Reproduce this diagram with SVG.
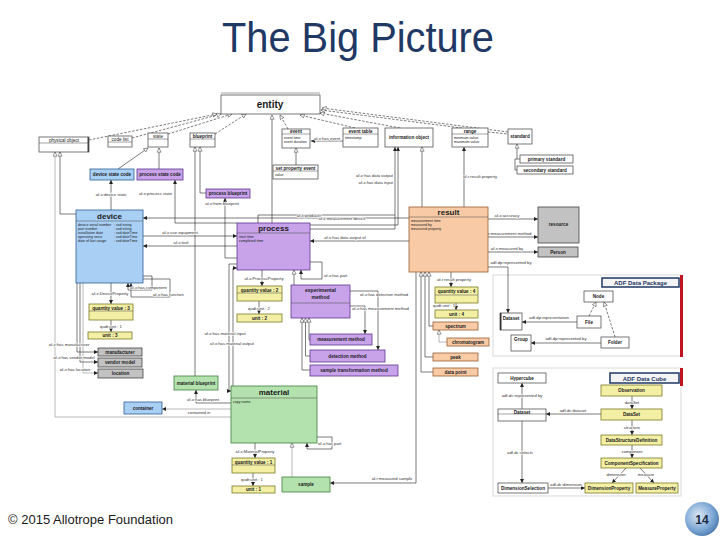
<svg xmlns="http://www.w3.org/2000/svg" width="720" height="540" viewBox="0 0 720 540">
<style>
text{font-family:"Liberation Sans",Arial,sans-serif;fill:#1a1a1a}
.nm{font-size:4.6px;font-weight:bold;text-anchor:middle}
.at{font-size:3.6px}
.big{font-size:8px;font-weight:bold;text-anchor:middle}
.lb{font-size:4.2px;fill:#333;paint-order:stroke;stroke:#fff;stroke-width:1.2px;stroke-linejoin:round}
.m{text-anchor:middle}
.e{text-anchor:end}
.bw{fill:#fff;stroke:#555;stroke-width:0.8}
.bb{fill:#A9CFF5;stroke:#2F5F95;stroke-width:0.8}
.bp{fill:#C8A3EA;stroke:#5E3591;stroke-width:0.8}
.bo{fill:#F8CBA6;stroke:#9A5E33;stroke-width:0.8}
.bg{fill:#B4E2AE;stroke:#3F7F3F;stroke-width:0.8}
.by{fill:#F3F0A6;stroke:#7A7A25;stroke-width:0.8}
.bgy{fill:#C2C2C2;stroke:#444;stroke-width:0.8}
.hl{stroke:#444;stroke-width:0.5}
.c{fill:none;stroke:#222;stroke-width:0.6}
.cg{stroke:#8a8a8a}
.d{stroke-dasharray:2.5,1.5}
.fa{marker-end:url(#af)}
.ga{marker-end:url(#ag)}
</style>
<defs>
<marker id="af" viewBox="0 0 10 10" refX="10" refY="5" markerUnits="userSpaceOnUse" markerWidth="4" markerHeight="4" orient="auto"><path d="M0,0 L10,5 L0,10 z" fill="#222"/></marker>
<marker id="ag" viewBox="0 0 12 12" refX="11" refY="6" markerUnits="userSpaceOnUse" markerWidth="5" markerHeight="5" orient="auto"><path d="M1,1 L11,6 L1,11 z" fill="#fff" stroke="#333" stroke-width="1.2"/></marker>
<radialGradient id="lg" cx="0.4" cy="0.4" r="0.7"><stop offset="0" stop-color="#DDE9F5"/><stop offset="0.6" stop-color="#7FA9D6"/><stop offset="1" stop-color="#3F6FA5"/></radialGradient>
</defs>
<rect width="720" height="540" fill="#fff"/>
<text x="358" y="52" font-size="42" style="fill:#1F3864" text-anchor="middle" textLength="272" lengthAdjust="spacingAndGlyphs">The Big Picture</text>

<!-- panels -->
<g id="adf-data-package">
<rect x="493" y="275" width="188" height="81" fill="#fff" stroke="#d0d0d0" stroke-width="0.8"/>
<rect x="680" y="275" width="3" height="82" fill="#C0141E"/>
<rect x="602" y="278" width="77" height="9" fill="#F4F4F4" stroke="#1F3864" stroke-width="1.5"/>
<text class="m" x="640.5" y="285" style="font-size:6px;font-weight:bold;fill:#1F3864">ADF Data Package</text>
</g>
<g id="adf-data-cube">
<rect x="493" y="368" width="188" height="128" fill="#fff" stroke="#d0d0d0" stroke-width="0.8"/>
<rect x="680" y="368" width="3" height="18" fill="#C0141E"/>
<rect x="610" y="373" width="69" height="10" fill="#F4F4F4" stroke="#1F3864" stroke-width="1.5"/>
<text class="m" x="644.5" y="380.5" style="font-size:6px;font-weight:bold;fill:#1F3864">ADF Data Cube</text>
</g>

<g id="connectors">
<path class="c d ga" d="M89,140 L217,114"/>
<path class="c d ga" d="M132,138 L221,114"/>
<path class="c d ga" d="M168,134 L232,114"/>
<path class="c d ga" d="M215,134 L246,114"/>
<path class="c d ga" d="M288,129 L280,115"/>
<path class="c d ga" d="M355,128 L300,115"/>
<path class="c d ga" d="M400,128 L320,113"/>
<path class="c d ga" d="M462,128 L321,110"/>
<path class="c d ga" d="M508,132 L322,108"/>
<path class="c ga" d="M272,223 V115"/>
<path class="c ga" d="M118,169 L148,148"/>
<path class="c ga" d="M159,169 V148"/>
<path class="c ga" d="M195,376 V147"/>
<path class="c ga" d="M206,193 H200 V147"/>
<path class="c ga" d="M296,165 V148"/>
<path class="c fa" d="M343,141 H311"/>
<path class="c d" d="M488,132 L508,134"/>
<path class="c ga" d="M520,159 H517 V144"/>
<path class="c" d="M517,170 H515 V159 H517"/>
<path class="c ga" d="M422,207 V147"/>
<path class="c fa" d="M310,229 H395 V147"/>
<path class="c fa" d="M310,225 H398 V147"/>
<path class="c fa" d="M464,207 V147"/>
<path class="c" d="M258,223 V215 H395"/>
<path class="c fa" d="M409,218 H143"/>
<path class="c fa" d="M409,241 H310"/>
<path class="c fa" d="M111,210 V180"/>
<path class="c fa" d="M237,223 H175 V180"/>
<path class="c fa" d="M237,258 H225 V198"/>
<path class="c fa" d="M143,236 H237"/>
<path class="c fa" d="M237,246 H143"/>
<path class="c ga" d="M76,214 H60 V152"/>
<path class="c cg ga" d="M231,417 H55 V152"/>
<path class="c fa" d="M111,283 V304"/>
<path class="c fa" d="M111,320 V332"/>
<path class="c fa" d="M143,276 H152 V290 H128 V283"/>
<path class="c fa" d="M143,279 H170 V297 H131 V283"/>
<path class="c fa" d="M77,283 V352 H98"/>
<path class="c fa" d="M80,283 V362 H98"/>
<path class="c cg fa" d="M83,283 V373 H98"/>
<path class="c fa" d="M262,270 V286"/>
<path class="c fa" d="M259,301 V314"/>
<path class="c fa" d="M310,262 H322 V279 H301 V270"/>
<path class="c ga" d="M294,285 V270"/>
<path class="c fa" d="M237,264 H229 V391 H231"/>
<path class="c fa" d="M233,386 V268 H237"/>
<path class="c fa" d="M350,291 H378 V350"/>
<path class="c fa" d="M350,306 H365 V334"/>
<path class="c ga" d="M310,370 H302 V318"/>
<path class="c ga" d="M310,356 H305.5 V318"/>
<path class="c ga" d="M310,340 H309 V318"/>
<path class="c fa" d="M488,219 H538"/>
<path class="c fa" d="M488,237 H538"/>
<path class="c fa" d="M488,252 H538"/>
<path class="c fa" d="M488,267 H508 V313"/>
<path class="c fa" d="M451,272 V287"/>
<path class="c fa" d="M456,303 V310"/>
<path class="c ga" d="M433,326 H429 V272"/>
<path class="c ga" d="M433,357 H425 V272"/>
<path class="c ga" d="M433,372 H421 V272"/>
<path class="c cg ga" d="M447,342 H439 V330"/>
<path class="c fa" d="M416,272 V483 H330"/>
<path class="c fa" d="M231,403 H196 V390"/>
<path class="c cg fa" d="M231,409 H162"/>
<path class="c fa" d="M317,437 H332 V449 H307 V443"/>
<path class="c cg ga" d="M292,477 V443"/>
<path class="c fa" d="M255,443 V458"/>
<path class="c fa" d="M253,473 V486"/>
<path class="c d ga" d="M589,316 L596,302"/>
<path class="c d ga" d="M615,337 L604,302"/>
<path class="c fa" d="M577,322 H522"/>
<path class="c fa" d="M601,343 H531"/>
<path class="c fa" d="M522,409 V383"/>
<path class="c fa" d="M601,414 H546"/>
<path class="c fa" d="M632,396 V409"/>
<path class="c fa" d="M632,420 V435"/>
<path class="c fa" d="M632,445 V458"/>
<path class="c fa" d="M626,468 L612,483"/>
<path class="c fa" d="M640,468 L654,483"/>
<path class="c fa" d="M522,421 V483"/>
<path class="c fa" d="M548,488 H585"/>

<text class="lb m" x="327" y="140">af-x:has event</text>
<text class="lb e" x="393" y="177">af-x:has data output</text>
<text class="lb e" x="393" y="184">af-x:has data input</text>
<text class="lb m" x="480" y="178">af-r:result property</text>
<text class="lb m" x="111" y="196">af-x:device state</text>
<text class="lb e" x="172" y="195">af-x:process state</text>
<text class="lb m" x="222" y="205">af-x:from blueprint</text>
<text class="lb m" x="309" y="216.5">af-x:producer</text>
<text class="lb m" x="342" y="219.5">af-x:measurement device</text>
<text class="lb m" x="345" y="239">af-x:has data output of</text>
<text class="lb m" x="180" y="234">af-x:use equipment</text>
<text class="lb m" x="181" y="244">af-x:tool</text>
<text class="lb m" x="507" y="217">af-x:accuracy</text>
<text class="lb m" x="507" y="235">af-x:measurement method</text>
<text class="lb m" x="507" y="250">af-x:measured by</text>
<text class="lb m" x="511" y="264">adf-dp:represented by</text>
<text class="lb m" x="264" y="280">af-x:ProcessProperty</text>
<text class="lb m" x="259" y="310">qudt:unit : 2</text>
<text class="lb" x="324" y="277">af-x:has part</text>
<text class="lb" x="360" y="296">af-x:has detection method</text>
<text class="lb" x="352" y="310">af-x:has measurement method</text>
<text class="lb m" x="454" y="281">af-r:result property</text>
<text class="lb e" x="455" y="307">qudt:unit : 1</text>
<text class="lb" x="130" y="289">af-x:has component</text>
<text class="lb" x="153" y="295.5">af-x:has function</text>
<text class="lb m" x="110" y="295">af-x:DeviceProperty</text>
<text class="lb m" x="111" y="328">qudt:unit : 1</text>
<text class="lb m" x="69" y="346">af-x:has manufacturer</text>
<text class="lb m" x="74" y="359">af-x:has vendor model</text>
<text class="lb m" x="75" y="371">af-x:has location</text>
<text class="lb m" x="225" y="335">af-x:has material input</text>
<text class="lb m" x="232" y="345">af-x:has material output</text>
<text class="lb m" x="203" y="401">af-x:has blueprint</text>
<text class="lb m" x="199" y="414">contained in</text>
<text class="lb" x="318" y="445">af-x:has part</text>
<text class="lb m" x="255" y="453">af-x:MaterialProperty</text>
<text class="lb m" x="252" y="481">qudt:unit : 1</text>
<text class="lb m" x="392" y="480">af-r:measured sample</text>
<text class="lb m" x="549" y="319">adf-dp:representation</text>
<text class="lb m" x="566" y="340">adf-dp:represented by</text>
<text class="lb m" x="522" y="397">adf-dc:represented by</text>
<text class="lb m" x="573" y="412">adf-dc:dataset</text>
<text class="lb m" x="632" y="404">dataSet</text>
<text class="lb m" x="632" y="429">structure</text>
<text class="lb m" x="632" y="453">component</text>
<text class="lb m" x="616" y="476">dimension</text>
<text class="lb m" x="646" y="476">measure</text>
<text class="lb m" x="520" y="454">adf-dc:selects</text>
<text class="lb m" x="566" y="486">adf-dc:dimension</text>
</g>

<g id="entity"><rect class="bw" x="221" y="95" width="99" height="19"/><line class="hl" x1="221" y1="93" x2="320" y2="93"/><text x="270" y="108" style="font-size:10px;font-weight:bold;text-anchor:middle">entity</text></g>
<g id="physical-object"><rect class="bw" x="39" y="137" width="50" height="15"/><line class="hl" x1="39" y1="143" x2="89" y2="143"/><rect x="87.5" y="137" width="1.5" height="15" fill="#444"/><text class="nm" x="64" y="142" style="font-weight:normal">physical object</text></g>
<g id="code-list"><rect class="bw" x="108" y="136" width="24" height="11"/><line class="hl" x1="108" y1="142" x2="132" y2="142"/><text class="nm" x="120" y="141" style="font-weight:normal">code list</text></g>
<g id="state"><rect class="bw" x="148" y="133" width="20" height="14"/><line class="hl" x1="148" y1="139" x2="168" y2="139"/><text class="nm" x="158" y="138" style="font-weight:normal">state</text></g>
<g id="blueprint"><rect class="bw" x="190" y="133" width="25" height="14"/><line class="hl" x1="190" y1="139" x2="215" y2="139"/><text class="nm" x="202.5" y="138">blueprint</text></g>
<g id="event"><rect class="bw" x="282" y="129" width="28" height="19"/><line class="hl" x1="282" y1="134" x2="310" y2="134"/><text class="nm" x="296" y="133">event</text><text class="at" x="284" y="138.5">event time</text><text class="at" x="284" y="142.5">event duration</text></g>
<g id="event-table"><rect class="bw" x="343" y="128" width="35" height="19"/><line class="hl" x1="343" y1="134" x2="378" y2="134"/><text class="nm" x="360.5" y="133">event table</text><text class="at" x="345" y="138.5">timestamp</text></g>
<g id="information-object"><rect class="bw" x="385" y="128" width="48" height="19"/><text class="nm" x="409" y="139">information object</text></g>
<g id="range"><rect class="bw" x="452" y="128" width="36" height="19"/><line class="hl" x1="452" y1="134" x2="488" y2="134"/><text class="nm" x="470" y="133">range</text><text class="at" x="454" y="138.5">minimum value</text><text class="at" x="454" y="142.5">maximum value</text></g>
<g id="standard"><rect class="bw" x="508" y="129" width="24" height="15"/><text class="nm" x="520" y="138">standard</text></g>
<g id="primary-standard"><rect class="bw" x="520" y="155" width="53" height="8"/><text class="nm" x="546.5" y="160.5">primary standard</text></g>
<g id="secondary-standard"><rect class="bw" x="517" y="166" width="56" height="8"/><text class="nm" x="545" y="171.5">secondary standard</text></g>
<g id="set-property-event"><rect class="bw" x="273" y="165" width="45" height="14"/><line class="hl" x1="273" y1="171" x2="318" y2="171"/><text class="nm" x="295.5" y="170">set property event</text><text class="at" x="275" y="175.5">value</text></g>
<g id="device-state-code"><rect class="bb" x="90" y="169" width="44" height="11"/><text class="nm" x="112" y="176">device state code</text></g>
<g id="process-state-code"><rect class="bp" x="137" y="169" width="46" height="11"/><text class="nm" x="160" y="176">process state code</text></g>
<g id="process-blueprint"><rect class="bp" x="206" y="189" width="44" height="9"/><text class="nm" x="228" y="195">process blueprint</text></g>
<g id="device"><rect class="bb" x="76" y="210" width="67" height="73"/><line class="hl" x1="76" y1="221" x2="143" y2="221"/><text class="big" x="109.5" y="218.5">device</text>
<text class="at" x="78" y="226">device serial number</text><text class="at" x="114" y="226">: xsd:string</text>
<text class="at" x="78" y="230">part number</text><text class="at" x="114" y="230">: xsd:string</text>
<text class="at" x="78" y="234">installation date</text><text class="at" x="114" y="234">: xsd:dateTime</text>
<text class="at" x="78" y="238">operating since</text><text class="at" x="114" y="238">: xsd:dateTime</text>
<text class="at" x="78" y="242">date of last usage</text><text class="at" x="114" y="242">: xsd:dateTime</text></g>
<g id="process"><rect class="bp" x="237" y="223" width="73" height="47"/><line class="hl" x1="237" y1="233" x2="310" y2="233"/><text class="big" x="273.5" y="230.5">process</text><text class="at" x="239" y="237.5">start time</text><text class="at" x="239" y="241.5">completed time</text></g>
<g id="result"><rect class="bo" x="409" y="207" width="79" height="65"/><line class="hl" x1="409" y1="217" x2="488" y2="217"/><text class="big" x="448.5" y="215">result</text><text class="at" x="411" y="221.5">measurement time</text><text class="at" x="411" y="225.5">measured by</text><text class="at" x="411" y="229.5">measured property</text></g>
<g id="resource"><rect class="bgy" x="538" y="207" width="41" height="36"/><text class="nm" x="558.5" y="226">resource</text></g>
<g id="person"><rect class="bgy" x="538" y="247" width="40" height="10"/><text class="nm" x="558" y="253.5">Person</text></g>
<g id="quantity-value-3"><rect class="by" x="89" y="304" width="44" height="16"/><line class="hl" x1="89" y1="311" x2="133" y2="311"/><text class="nm" x="111" y="309.5">quantity value : 3</text></g>
<g id="unit-3"><rect class="by" x="88" y="332" width="44" height="7"/><text class="nm" x="110" y="337.2">unit : 3</text></g>
<g id="manufacturer"><rect class="bgy" x="98" y="348" width="44" height="8"/><text class="nm" x="120" y="353.5">manufacturer</text></g>
<g id="vendor-model"><rect class="bgy" x="98" y="358" width="44" height="9"/><text class="nm" x="120" y="364">vendor model</text></g>
<g id="location"><rect class="bgy" x="98" y="369" width="45" height="9"/><text class="nm" x="120.5" y="375">location</text></g>
<g id="quantity-value-2"><rect class="by" x="237" y="286" width="45" height="15"/><line class="hl" x1="237" y1="293" x2="282" y2="293"/><text class="nm" x="259.5" y="291.5">quantity value : 2</text></g>
<g id="unit-2"><rect class="by" x="237" y="314" width="45" height="8"/><text class="nm" x="259.5" y="319.5">unit : 2</text></g>
<g id="experimental-method"><rect class="bp" x="291" y="285" width="59" height="33"/><line class="hl" x1="291" y1="303" x2="350" y2="303"/><text class="nm" x="320.5" y="292" style="font-size:5px">experimental</text><text class="nm" x="320.5" y="299" style="font-size:5px">method</text></g>
<g id="measurement-method"><rect class="bp" x="310" y="334" width="62" height="11"/><text class="nm" x="341" y="341">measurement method</text></g>
<g id="detection-method"><rect class="bp" x="310" y="350" width="75" height="12"/><text class="nm" x="347.5" y="357.5">detection method</text></g>
<g id="sample-transformation-method"><rect class="bp" x="310" y="365" width="88" height="11"/><text class="nm" x="354" y="372">sample transformation method</text></g>
<g id="quantity-value-4"><rect class="by" x="435" y="287" width="43" height="16"/><line class="hl" x1="435" y1="295" x2="478" y2="295"/><text class="nm" x="456.5" y="293">quantity value : 4</text></g>
<g id="unit-4"><rect class="by" x="435" y="310" width="43" height="8"/><text class="nm" x="456.5" y="315.5">unit : 4</text></g>
<g id="spectrum"><rect class="bo" x="433" y="322" width="45" height="8"/><text class="nm" x="455.5" y="327.5">spectrum</text></g>
<g id="chromatogram"><rect class="bo" x="447" y="338" width="42" height="8"/><text class="nm" x="468" y="343.5">chromatogram</text></g>
<g id="peak"><rect class="bo" x="433" y="353" width="45" height="8"/><text class="nm" x="455.5" y="358.5">peak</text></g>
<g id="data-point"><rect class="bo" x="433" y="368" width="45" height="8"/><text class="nm" x="455.5" y="373.5">data point</text></g>
<g id="material-blueprint"><rect class="bg" x="174" y="376" width="44" height="14"/><text class="nm" x="196" y="384.5">material blueprint</text></g>
<g id="container"><rect class="bb" x="124" y="402" width="38" height="12"/><text class="nm" x="143" y="409.5">container</text></g>
<g id="material"><rect class="bg" x="231" y="386" width="86" height="57"/><line class="hl" x1="231" y1="398" x2="317" y2="398"/><text class="big" x="274" y="394.5">material</text><text class="at" x="233" y="402.5">copy name</text></g>
<g id="quantity-value-1"><rect class="by" x="232" y="458" width="43" height="15"/><line class="hl" x1="232" y1="465" x2="275" y2="465"/><text class="nm" x="253.5" y="463.5">quantity value : 1</text></g>
<g id="unit-1"><rect class="by" x="232" y="486" width="43" height="7"/><text class="nm" x="253.5" y="491.2">unit : 1</text></g>
<g id="sample"><rect class="bg" x="282" y="477" width="48" height="15"/><text class="nm" x="306" y="486">sample</text></g>
<g id="node"><rect class="bw" x="584" y="291" width="29" height="11"/><text class="nm" x="598.5" y="298">Node</text></g>
<g id="file"><rect class="bw" x="577" y="316" width="24" height="12"/><text class="nm" x="589" y="323.5">File</text></g>
<g id="folder"><rect class="bw" x="601" y="337" width="28" height="11"/><text class="nm" x="615" y="344">Folder</text></g>
<g id="dataset-dp"><rect class="bw" x="500" y="313" width="22" height="17"/><rect x="500" y="313" width="1.5" height="17" fill="#333"/><text class="nm" x="511" y="320">Dataset</text></g>
<g id="group"><rect class="bw" x="511" y="335" width="20" height="16"/><text class="nm" x="521" y="341">Group</text></g>
<g id="hypercube"><rect class="bw" x="498" y="373" width="48" height="10"/><text class="nm" x="522" y="379.5">Hypercube</text></g>
<g id="dataset-dc"><rect class="bw" x="498" y="409" width="48" height="12"/><line class="hl" x1="498" y1="414" x2="546" y2="414"/><text class="nm" x="522" y="413.5">Dataset</text></g>
<g id="observation"><rect class="by" x="601" y="385" width="61" height="11"/><text class="nm" x="631.5" y="392">Observation</text></g>
<g id="dataset-cube"><rect class="by" x="601" y="409" width="61" height="11"/><text class="nm" x="631.5" y="416">DataSet</text></g>
<g id="data-structure-definition"><rect class="by" x="601" y="435" width="61" height="10"/><text class="nm" x="631.5" y="441.5">DataStructureDefinition</text></g>
<g id="component-specification"><rect class="by" x="601" y="458" width="61" height="10"/><text class="nm" x="631.5" y="464.5">ComponentSpecification</text></g>
<g id="dimension-property"><rect class="by" x="585" y="483" width="48" height="10"/><text class="nm" x="609" y="489.5">DimensionProperty</text></g>
<g id="measure-property"><rect class="by" x="636" y="483" width="42" height="10"/><text class="nm" x="657" y="489.5">MeasureProperty</text></g>
<g id="dimension-selection"><rect class="bw" x="498" y="483" width="50" height="10"/><text class="nm" x="523" y="489.5">DimensionSelection</text></g>

<g id="footer">
<text x="8" y="524" style="font-size:13px">© 2015 Allotrope Foundation</text>
<circle cx="702" cy="519" r="17" fill="url(#lg)"/>
<text x="702" y="523.5" style="font-size:12px;font-weight:bold;text-anchor:middle;fill:#1a2a40">14</text>
</g>
</svg>
